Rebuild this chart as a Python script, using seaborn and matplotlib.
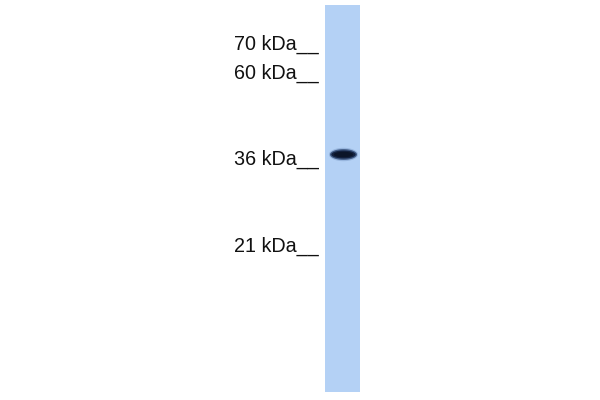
import matplotlib
matplotlib.use("Agg")
import matplotlib.pyplot as plt
import seaborn as sns
import pandas as pd
from matplotlib.patches import Rectangle
from matplotlib.path import Path
import numpy as np

sns.set_style("white")
plt.rcParams['font.family'] = ['Liberation Sans', 'DejaVu Sans']

# molecular weight ladder: label and migration (px from top of image, text baseline)
marker_labels = ["70 kDa", "60 kDa", "36 kDa", "21 kDa"]
marker_pos = [50, 79, 165, 252]

# detected band in the sample lane
band_lane = ["sample"]
band_pos = [154]

# gel lane geometry (layout only)
LANE_LEFT, LANE_RIGHT = 325, 360
LANE_TOP, LANE_BOTTOM = 5, 392


def ellipse_marker(ratio):
    t = np.linspace(0, 2 * np.pi, 60)
    verts = np.column_stack([np.cos(t), ratio * np.sin(t)])
    return Path(verts, closed=True)


def main():
    fig = plt.figure(figsize=(6, 4), dpi=100)
    ax = fig.add_axes([0, 0, 1, 1])
    ax.set_xlim(0, 600)
    ax.set_ylim(400, 0)
    ax.axis("off")

    # the lane
    ax.add_patch(Rectangle((LANE_LEFT, LANE_TOP), LANE_RIGHT - LANE_LEFT,
                           LANE_BOTTOM - LANE_TOP, facecolor="#b4d1f5",
                           edgecolor="none"))

    # band, drawn in layers to get a soft edge
    lane_mid = (LANE_LEFT + LANE_RIGHT) / 2 + 0.5
    band = pd.DataFrame({"lane": band_lane, "x": [lane_mid], "y": band_pos})
    layers = [(21, 0.46, "#7d9cc8", 0.5), (19.5, 0.40, "#2c4670", 0.8),
              (17.5, 0.33, "#132240", 1.0), (14, 0.28, "#0b1529", 1.0)]
    for size_pt, ratio, colour, alpha in layers:
        sns.scatterplot(data=band, x="x", y="y", ax=ax, s=size_pt ** 2,
                        marker=ellipse_marker(ratio), color=colour,
                        alpha=alpha, linewidth=0, legend=False)

    # ladder labels
    for label, pos in zip(marker_labels, marker_pos):
        ax.text(LANE_LEFT - 6, pos, label + "__", ha="right", va="baseline",
                fontsize=14.2, color="#111111")

    ax.set_xlabel("")
    ax.set_ylabel("")
    fig.savefig("out.png", dpi=100)
    plt.close(fig)


if __name__ == '__main__':
    main()
